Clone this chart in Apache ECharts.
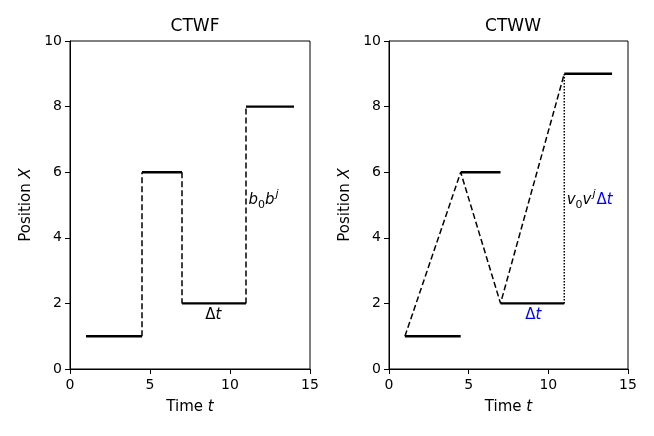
<!doctype html>
<html>
<head>
<meta charset="utf-8">
<script src="https://cdn.jsdelivr.net/npm/echarts@6/dist/echarts.min.js"></script>
<style>
  html, body { margin: 0; padding: 0; background: #fff; }
  #chart { width: 654px; height: 436px; }
</style>
</head>
<body>
<div id="chart"></div>
<script>
// step times and levels shared by both panels
const segStart = [1, 4.5, 7, 11];
const segEnd = [4.5, 7, 11, 14];
const ctwfLevels = [1, 6, 2, 8];
const ctwwLevels = [1, 6, 2, 9];
const xTicks = [0, 5, 10, 15];
const yTicks = [0, 2, 4, 6, 8, 10];
const panelTitles = ['CTWF', 'CTWW'];

const FONT = 'DejaVu Sans';

function axisX(idx) {
  return {
    gridIndex: idx, type: 'value', min: 0, max: 15, interval: 5,
    name: '{n|Time }{i|t}', nameLocation: 'middle', nameGap: 31,
    nameTextStyle: { rich: {
      n: { fontFamily: FONT, fontSize: 15, color: '#000' },
      i: { fontFamily: FONT, fontSize: 15, color: '#000', fontStyle: 'italic' }
    } },
    axisLine: { show: true, onZero: false, lineStyle: { color: '#000', width: 1 } },
    axisTick: { show: true, length: 5, lineStyle: { color: '#000' } },
    axisLabel: { fontFamily: FONT, fontSize: 14, color: '#000', margin: 9,
      formatter: v => xTicks.includes(v) ? String(v) : '' },
    splitLine: { show: false }
  };
}
function axisY(idx) {
  return {
    gridIndex: idx, type: 'value', min: 0, max: 10, interval: 2,
    name: '{n|Position }{i|X}', nameLocation: 'middle', nameGap: 36, nameRotate: 90,
    nameTextStyle: { rich: {
      n: { fontFamily: FONT, fontSize: 15, color: '#000' },
      i: { fontFamily: FONT, fontSize: 15, color: '#000', fontStyle: 'italic' }
    } },
    axisLine: { show: true, onZero: false, lineStyle: { color: '#000', width: 1 } },
    axisTick: { show: true, length: 5, lineStyle: { color: '#000' } },
    axisLabel: { fontFamily: FONT, fontSize: 14, color: '#000', margin: 8,
      formatter: v => yTicks.includes(v) ? String(v) : '' },
    splitLine: { show: false }
  };
}

function solid(idx, pts) {
  return { type: 'line', xAxisIndex: idx, yAxisIndex: idx, data: pts, symbol: 'none',
    lineStyle: { color: '#000', width: 2.4 }, animation: false, silent: true };
}
function dashed(idx, pts, kind) {
  return { type: 'line', xAxisIndex: idx, yAxisIndex: idx, data: pts, symbol: 'none',
    lineStyle: { color: '#000', width: 1.5, type: kind || [6, 3] }, animation: false, silent: true };
}

const series = [];
// horizontal plateaus
segStart.forEach((s, i) => {
  series.push(solid(0, [[s, ctwfLevels[i]], [segEnd[i], ctwfLevels[i]]]));
  series.push(solid(1, [[s, ctwwLevels[i]], [segEnd[i], ctwwLevels[i]]]));
});
// CTWF: dashed vertical jumps
for (let i = 1; i < segStart.length; i++) {
  series.push(dashed(0, [[segStart[i], ctwfLevels[i - 1]], [segStart[i], ctwfLevels[i]]]));
}
// CTWW: dashed walk between plateau starts
series.push(dashed(1, segStart.map((s, i) => [s, ctwwLevels[i]])));
// CTWW: dotted vertical at last jump
const last = segStart.length - 1;
series.push(dashed(1, [[segStart[last], ctwwLevels[last - 1]], [segStart[last], ctwwLevels[last]]], [1.5, 1.5]));

// annotations
const base = { fontFamily: FONT, fontSize: 15, color: '#000', textBorderWidth: 0 };
const rich = {
  i: Object.assign({}, base, { fontStyle: 'italic', lineHeight: 22 }),
  ib: Object.assign({}, base, { fontStyle: 'italic', color: '#0000ff', lineHeight: 22 }),
  n: Object.assign({}, base, { lineHeight: 22 }),
  nb: Object.assign({}, base, { color: '#0000ff', lineHeight: 22 }),
  sup: Object.assign({}, base, { fontSize: 11, fontStyle: 'italic', lineHeight: 22, verticalAlign: 'top', padding: [0, 1, 6, 1] }),
  sub0: Object.assign({}, base, { fontSize: 11, lineHeight: 22, verticalAlign: 'bottom', padding: [6, 0, 0, 0] })
};
function note(idx, x, y, text, align) {
  return { type: 'scatter', xAxisIndex: idx, yAxisIndex: idx, symbolSize: 0, silent: true, animation: false,
    data: [[x, y]], itemStyle: { opacity: 1 },
    label: { show: true, position: [0, 0], align: align, verticalAlign: 'middle', formatter: text, rich: rich,
      color: '#000', textBorderWidth: 0 } };
}
series.push(note(0, 8.95, 1.65, '{n|Δ}{i|t}', 'center'));
series.push(note(0, 11.15, 5.15, '{i|b}{sub0|0}{i|b}{sup|j}', 'left'));
series.push(note(1, 9.05, 1.65, '{nb|Δ}{ib|t}', 'center'));
series.push(note(1, 11.15, 5.15, '{i|v}{sub0|0}{i|v}{sup|j}{nb|Δ}{ib|t}', 'left'));

const option = {
  backgroundColor: '#fff',
  animation: false,
  title: panelTitles.map((t, i) => ({
    text: t, left: i === 0 ? 190 : 508, top: 13, textAlign: 'center',
    textStyle: { fontFamily: FONT, fontSize: 17, fontWeight: 'normal', color: '#000' }
  })),
  grid: [
    { left: 70, right: 344, top: 41, bottom: 67, show: true, borderColor: '#000', borderWidth: 1, backgroundColor: 'transparent' },
    { left: 389, right: 26, top: 41, bottom: 67, show: true, borderColor: '#000', borderWidth: 1, backgroundColor: 'transparent' }
  ],
  xAxis: [axisX(0), axisX(1)],
  yAxis: [axisY(0), axisY(1)],
  series: series
};

echarts.init(document.getElementById('chart'), null, { renderer: 'canvas' }).setOption(option);
</script>
</body>
</html>
